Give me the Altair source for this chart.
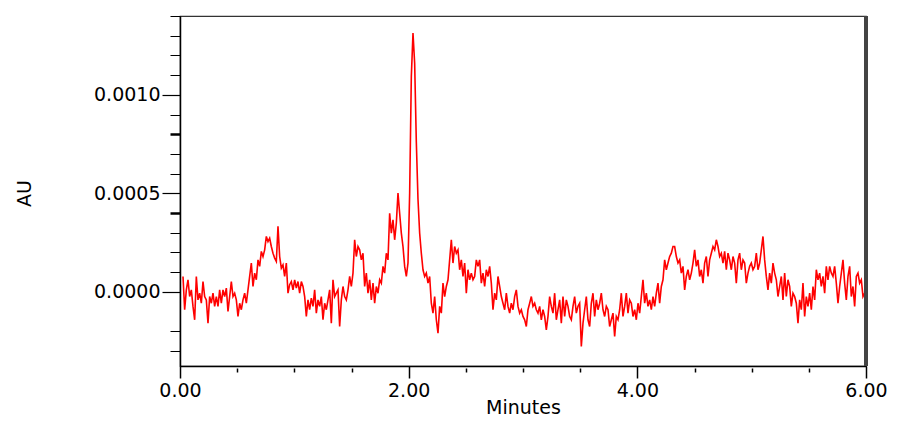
import altair as alt
import numpy as np
import pandas as pd

# detector trace, in units of 1e-4 AU
# one sample every STEP_MIN minutes, first sample at START_MIN
START_MIN = 0.0262
STEP_MIN = 0.014577

# 0.03 - 1.54 min
au_part1 = [
    0.78, -0.91, 0.10, 0.61, -0.24, 0.10, -0.74, -1.42, 0.78, -0.41,
    -0.07, -0.58, 0.52, -0.24, -0.41, -1.59, -0.24, -0.58, -0.07, -0.74,
    -0.24, -0.74, 0.10, -0.58, 0.10, -0.24, 0.19, -1.00, -0.24, 0.52,
    -0.24, -0.07, -0.41, -1.25, -0.58, -0.91, -0.41, -0.07, -0.58, 0.10,
    0.78, 1.46, 0.27, 0.95, 0.61, 1.62, 1.29, 2.05, 1.79, 2.13,
    2.81, 2.55, 2.72, 2.30, 1.96, 1.71, 1.54, 3.32, 1.79, 1.20,
    1.37, 0.78, 1.46, -0.07, 0.36, 0.52, 0.10, 0.61, 0.19, 0.52,
    -0.07, 0.52, 0.27, -0.24, -1.25, -0.41, -0.91, -0.32, -0.74, 0.10,
    -1.08, -0.41, -0.74, -0.24, -1.42, -0.58, -0.91, -0.41, 0.10, -1.59,
    0.61, -0.24, -0.07, 0.10, -1.76, -0.41, 0.27, -0.24, -0.41, 0.10,
    0.78, 0.27, 0.95, 2.64, 1.79,
]
# 1.56 - 2.61 min (main peak)
au_part2 = [
    2.30, 2.13, 1.62, 1.96, 0.27, 0.95, -0.07, 0.61, -0.41, 0.44,
    -0.58, 0.27, -0.07, 0.61, 0.44, 1.29, 0.95, 1.96, 1.62, 3.99,
    2.98, 3.65, 2.64, 3.49, 5.01, 3.99, 2.98, 2.30, 1.29, 0.78,
    1.46, 5.01, 10.93, 13.13, 11.60, 7.60, 4.70, 2.98, 1.96, 1.12,
    0.78, 0.95, 0.44, 0.78, -0.58, -1.08, -0.24, -1.42, -2.10, -0.74,
    -1.08, 0.44, -0.24, 0.27, 0.61, 1.62, 2.64, 1.46, 2.30, 1.96,
    2.13, 1.12, 1.62, 0.78, 1.46, -0.07, 1.12, 0.61, 0.95, 0.61,
    0.78, 1.62, 1.29,
]
# 2.62 - 4.31 min
au_part3 = [
    1.62, 0.44, 0.95, 0.27, 1.12, 0.78, 1.29, 0.44, -0.91, -0.07,
    -0.41, 0.78, 0.27, -0.24, -0.58, -0.91, -0.07, -0.74, -1.08, -0.58,
    -0.91, -0.24, 0.10, -0.74, -1.08, -0.91, -1.25, -1.42, -1.76, -0.91,
    -0.58, -0.24, -0.74, -0.58, -0.91, -1.08, -0.74, -1.42, -0.91, -1.25,
    -1.93, -1.25, -0.24, -0.74, -1.08, -0.07, -1.42, -0.91, -0.41, -1.59,
    -0.24, -1.25, -0.41, -0.74, -1.25, -1.42, -0.74, -0.24, -1.08, -0.74,
    -0.58, -2.77, -1.59, -0.91, -0.24, -1.42, -1.76, -0.58, -0.07, -1.25,
    -0.41, -0.91, -0.58, -0.07, -0.91, -1.25, -0.74, -0.91, -1.76, -1.42,
    -1.08, -2.27, -1.25, -1.42, -0.91, -0.07, -1.25, -0.74, -0.07, -1.08,
    -0.41, -0.58, -1.25, -0.91, -1.42, -0.58, -1.08, -0.24, 0.61, -0.58,
    -0.07, -0.74, -0.41, -0.91, -0.24, -0.74, -0.07, 0.44, -0.58, 0.27,
    0.61, 1.62, 1.12, 1.46, 1.79, 1.96, 2.30,
]
# 4.33 - 5.99 min
au_part4 = [
    2.30, 1.79, 1.46, 1.62, 0.95, 1.29, 0.10, 0.78, 1.12, 0.61,
    0.95, 1.46, 2.13, 1.29, 1.62, 0.78, 1.12, 0.44, 1.46, 1.79,
    0.78, 1.62, 1.96, 2.30, 2.13, 2.64, 2.30, 1.79, 1.96, 1.46,
    2.05, 1.12, 1.96, 1.62, 1.12, 1.79, 1.46, 0.44, 1.62, 1.96,
    1.12, 1.62, 1.46, 0.44, 0.95, 1.29, 1.46, 1.12, 1.29, 1.96,
    1.12, 1.46, 2.13, 2.81, 1.62, 0.78, 0.10, 0.95, 0.44, 1.46,
    0.95, 0.61, -0.24, 0.27, 0.78, -0.41, 0.95, -0.24, 0.61, 0.27,
    -0.74, -0.07, -0.24, -0.58, -1.59, -0.41, -0.91, 0.44, -1.25, -0.24,
    -0.74, -0.07, -0.91, 0.27, -0.41, 1.12, 0.61, 0.95, 0.27, 0.78,
    -0.07, 1.29, 0.61, 1.29, 0.95, 0.78, 1.29, 0.44, -0.58, 0.27,
    0.95, 1.62, 0.44, -0.41, 0.78, 1.29, -0.24, 0.27, -0.74, 0.78,
    0.95, 0.44, 0.61, -0.24, -0.07,
]

# axis ticks
x_major = [0, 2, 4, 6]
x_minor = [0.5, 1.0, 1.5, 2.5, 3.0, 3.5, 4.5, 5.0, 5.5]
y_major = [0.0, 0.0005, 0.0010]
y_minor = [-0.0003, -0.0002, 0.0001, 0.0002, 0.0003, 0.0004, 0.0006,
           0.0007, 0.0008, 0.0009, 0.0011, 0.0012, 0.0013, 0.0014]

signal = au_part1 + au_part2 + au_part3 + au_part4
df = pd.DataFrame({
    "Minutes": START_MIN + STEP_MIN * np.arange(len(signal)),
    "AU": np.array(signal) * 1e-4,
})

x_scale = alt.Scale(domain=[0, 6], nice=False, zero=False)
y_scale = alt.Scale(domain=[-0.0003766, 0.0014], nice=False, zero=False)

trace = alt.Chart(df).mark_line(color="#ff0000", strokeWidth=1.6).encode(
    x=alt.X("Minutes:Q", scale=x_scale,
            axis=alt.Axis(values=x_major, format=".2f", tickSize=12, tickWidth=1.5,
                          labelPadding=3, labelFlush=False, grid=False,
                          title="Minutes", titleY=41, titleBaseline="middle")),
    y=alt.Y("AU:Q", scale=y_scale,
            axis=alt.Axis(values=y_major, format=".4f", tickSize=18, tickWidth=1.2,
                          labelPadding=2, grid=False,
                          title="AU", titleX=-156, titleY=177, titleAngle=270,
                          titleBaseline="middle")),
)

# invisible copy of the trace, only there to carry the minor tick marks
minor = alt.Chart(df).mark_line(opacity=0).encode(
    x=alt.X("Minutes:Q", scale=x_scale,
            axis=alt.Axis(orient="bottom", values=x_minor, labels=False, tickSize=4,
                          tickWidth=1.5, offset=2, domain=False, grid=False, title="")),
    y=alt.Y("AU:Q", scale=y_scale,
            axis=alt.Axis(orient="left", values=y_minor, labels=False, tickSize=10,
                          domain=False, grid=False, title="",
                          tickWidth={"condition": {"test": "abs(datum.value - 0.0008) < 0.00001 || abs(datum.value - 0.0004) < 0.00001",
                                                   "value": 2.5},
                                     "value": 1})),
)

# heavier right-hand frame line
border = alt.Chart(df).mark_rule(color="#444444", strokeWidth=2.5).encode(
    x=alt.X(datum=6, scale=x_scale, axis=None),
)

chart = alt.layer(trace, minor, border).resolve_axis(
    x="independent", y="independent"
).properties(
    width=686,
    height=350,
    autosize=alt.AutoSizeParams(type="none"),
    padding={"left": 172, "top": 8, "right": 27, "bottom": 56},
).configure_view(
    stroke="#333333", strokeWidth=1.2
).configure_axis(
    domainColor="black", domainWidth=1.5, tickColor="black",
    labelColor="black", labelFont="DejaVu Sans", labelFontSize=19,
    titleColor="black", titleFont="DejaVu Sans", titleFontSize=19,
    titleFontWeight="normal",
)

chart.save("out.html", embed_options={"renderer": "svg", "actions": False})
